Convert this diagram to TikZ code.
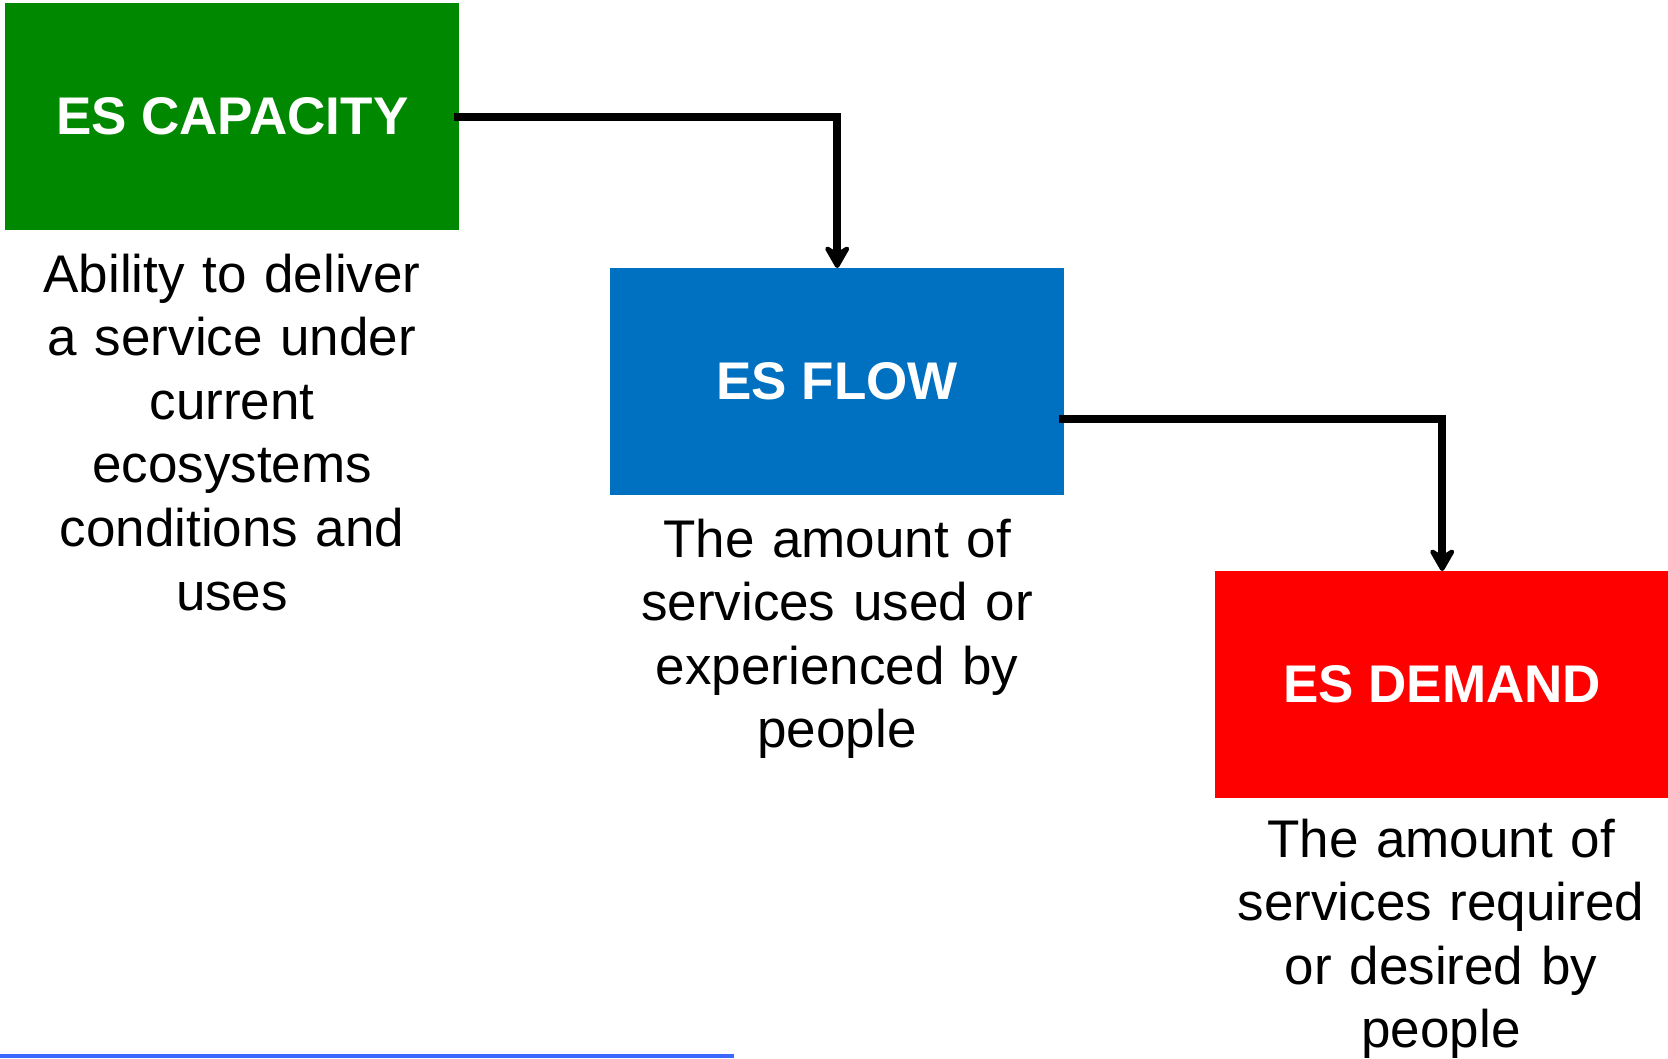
\documentclass[tikz,border=0pt]{standalone}
\usepackage{fontspec}
\setmainfont{Liberation Sans}
\usetikzlibrary{arrows.meta}
\definecolor{capgreen}{RGB}{0,137,0}
\definecolor{flowblue}{RGB}{0,112,192}
\definecolor{demandred}{RGB}{255,0,0}
\definecolor{ruleblue}{RGB}{59,105,255}
\tikzset{
  esbox/.style={rectangle, anchor=north west, minimum width=454pt, minimum height=227pt,
    inner sep=0pt, text=white, font=\fontsize{53}{60}\selectfont\bfseries},
  esdesc/.style={anchor=base, text width=460pt, align=center, inner sep=0pt,
    font=\fontsize{53}{63.6}\selectfont},
  esarrow/.style={line width=8pt, draw=black,
    -{Stealth[length=28pt, width=32pt, inset=10pt, round]}}
}
\begin{document}
\begin{tikzpicture}[x=1pt, y=-1pt]
  \useasboundingbox (0,0) rectangle (1668,1058);

  % the three boxes
  \node[esbox, fill=capgreen]  (cap)    at (5,3)     {ES CAPACITY};
  \node[esbox, fill=flowblue]  (flow)   at (610,268) {ES FLOW};
  \node[esbox, fill=demandred] (demand) at (1215,571) {ES DEMAND};

  % descriptions under each box
  \node[esdesc] (capdesc) at (232,292)
    {Ability to deliver\\a service under\\current\\ecosystems\\conditions and\\uses};
  \node[esdesc] (flowdesc) at (837,557)
    {The amount of\\services used or\\experienced by\\people};
  \node[esdesc] (demanddesc) at (1441,857)
    {The amount of\\services required\\or desired by\\people};

  % connectors
  \draw[esarrow] ([xshift=-5pt]cap.east) -| (flow.north);
  \draw[esarrow] ([xshift=-5pt, yshift=-37pt]flow.east) -| (demand.north);

  % rule along the lower edge
  \fill[ruleblue] (0,1054) rectangle (734,1058);
\end{tikzpicture}
\end{document}
